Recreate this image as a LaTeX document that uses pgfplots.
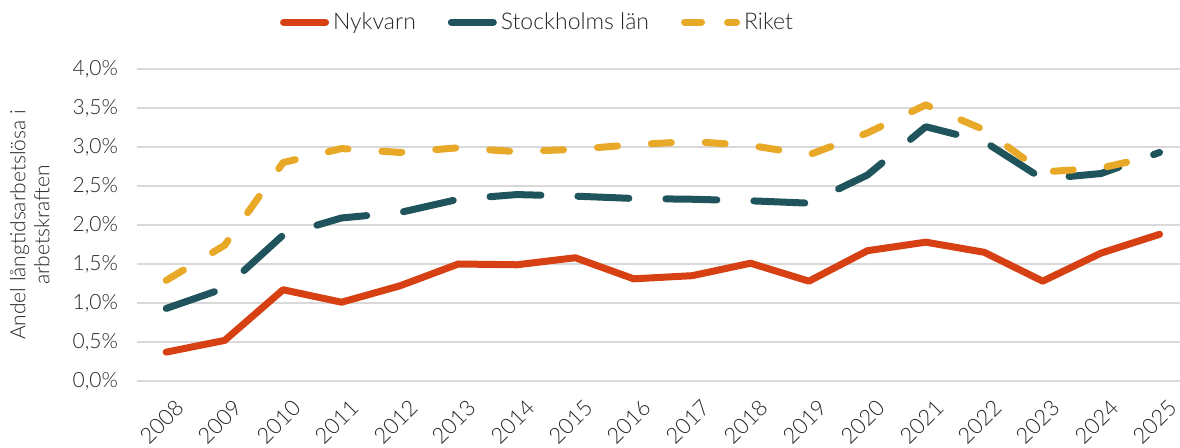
\documentclass[border=0pt]{standalone}
\usepackage{fontspec}
\setmainfont{Lato}[UprightFont=* Light]
\usepackage{pgfplots}
\pgfplotsset{compat=1.18}
\definecolor{cNyk}{RGB}{214,64,18}
\definecolor{cSto}{RGB}{31,84,92}
\definecolor{cRik}{RGB}{232,168,40}
\definecolor{cGrid}{RGB}{217,217,217}
\begin{document}
\begin{tikzpicture}
\begin{axis}[
  at={(0,0)}, anchor=south west,
  scale only axis, width=521.5pt, height=156pt,
  xmin=2007.5, xmax=2025.35, ymin=0, ymax=4,
  axis line style={draw=none},
  major tick length=0pt,
  ymajorgrids, grid style={cGrid, line width=1pt},
  xtick={2008,2009,...,2025},
  ytick={0,0.5,...,4},
  /pgf/number format/assume math mode=true,
  yticklabel={\pgfmathprintnumber[fixed,fixed zerofill,precision=1,use comma]{\tick}\%},
  tick label style={font=\fontsize{10.5}{12}\selectfont, color=black!85},
  x tick label style={/pgf/number format/1000 sep={}, font=\fontsize{11}{12}\selectfont, rotate=45, anchor=east, inner sep=1pt, xshift=-2pt, yshift=-13pt},
  y tick label style={xshift=-6pt},
  ylabel={Andel långtidsarbetslösa i\\arbetskraften},
  ylabel style={align=center, font=\fontsize{10.5}{12}\selectfont, color=black!85, at={(axis description cs:-0.0834,0.5)}, anchor=south, inner sep=0pt},
  legend style={at={(axis description cs:0.385,1.15)}, anchor=center, draw=none, fill=none, font=\fontsize{11.5}{13}\selectfont, text=black!85,
    /tikz/every even column/.append style={column sep=14pt}},
  legend columns=3,
  legend image code/.code={\draw[#1] (0pt,0pt) -- (21pt,0pt);},
  every axis plot/.append style={line width=3.5pt, line cap=round, line join=round},
]
\addplot[cNyk] coordinates {
(2008,0.37) (2009,0.52) (2010,1.17) (2011,1.01) (2012,1.22) (2013,1.50) (2014,1.49) (2015,1.58) (2016,1.31)
(2017,1.35) (2018,1.51) (2019,1.28) (2020,1.67) (2021,1.78) (2022,1.65) (2023,1.28) (2024,1.64) (2025,1.88)};
\addlegendentry{Nykvarn}
\addplot[cSto, dash pattern=on 25.5pt off 18.5pt] coordinates {
(2008,0.93) (2009,1.19) (2010,1.87) (2011,2.09) (2012,2.16) (2013,2.33) (2014,2.39) (2015,2.37) (2016,2.34)
(2017,2.33) (2018,2.31) (2019,2.28) (2020,2.64) (2021,3.26) (2022,3.07) (2023,2.59) (2024,2.66) (2025,2.93)};
\addlegendentry{Stockholms län}
\addplot[cRik, dash pattern=on 10pt off 17pt,
  legend image code/.code={\draw[cRik, line width=3.5pt, line cap=round, dash pattern=on 8.5pt off 13pt] (0pt,0pt) -- (26pt,0pt);}] coordinates {
(2008,1.29) (2009,1.74) (2010,2.80) (2011,2.98) (2012,2.93) (2013,2.99) (2014,2.94) (2015,2.97) (2016,3.03)
(2017,3.07) (2018,3.02) (2019,2.90) (2020,3.18) (2021,3.54) (2022,3.22) (2023,2.68) (2024,2.73) (2025,2.90)};
\addlegendentry{Riket}
\end{axis}
\pgfresetboundingbox
\path (-68.5pt,-33.5pt) rectangle (521.5pt,190.5pt);
\end{tikzpicture}
\end{document}
